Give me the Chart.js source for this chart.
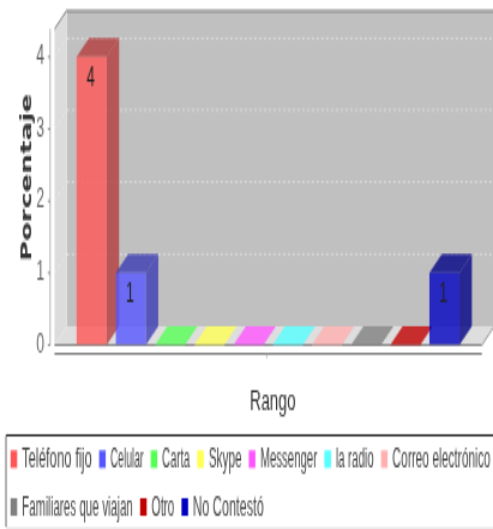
<!DOCTYPE html>
<html><head><meta charset="utf-8">
<style>
html,body{margin:0;padding:0;background:#fff;overflow:hidden}
canvas{display:block;width:493px!important;height:529px!important;filter:blur(0.5px)}
</style>
<script src="https://cdn.jsdelivr.net/npm/chart.js@4"></script>
</head><body>
<canvas id="c" width="411" height="240"></canvas>
<script>
const categories = ["Teléfono fijo","Celular","Carta","Skype","Messenger","la radio","Correo electrónico","Familiares que viajan","Otro","No Contestó"];
const values = [4,1,0,0,0,0,0,0,0,1];
const rgb = [[255,85,85],[85,85,255],[85,255,85],[255,255,85],[255,85,255],[85,255,255],[255,175,175],[128,128,128],[192,0,0],[0,0,192]];
const yTicks = [0,1,2,3,4];
const legendRows = [[0,1,2,3,4,5,6],[7,8,9]];
const legendTextWidths = [58.3,27.5,23.3,27.5,47.5,31.7,81.7,92.5,19,59];

const ALPHA = 0.8, DX = 10.4, DY = 8.6;
const css = (c,a,k=1)=>`rgba(${c.map(v=>Math.round(v*k)).join(',')},${a})`;
const poly = (ctx,pts,fill)=>{ctx.beginPath();pts.forEach((p,i)=>i?ctx.lineTo(p[0],p[1]):ctx.moveTo(p[0],p[1]));ctx.closePath();ctx.fillStyle=fill;ctx.fill();};
const seg = (ctx,x1,y1,x2,y2,col,w=1)=>{ctx.beginPath();ctx.moveTo(x1,y1);ctx.lineTo(x2,y2);ctx.strokeStyle=col;ctx.lineWidth=w;ctx.stroke();};

const scene = {
  id:'scene',
  beforeDatasetsDraw(chart){
    const {ctx,chartArea:a,scales:{y}} = chart;
    const base=y.getPixelForValue(0), L=a.left-14.6, R=a.right+14.9, top=a.top;
    ctx.save();
    poly(ctx,[[L+DX,top],[R+DX,top],[R+DX,base-DY],[L+DX,base-DY]],'#c0c0c0');
    poly(ctx,[[L,top+DY],[L+DX,top],[L+DX,base-DY],[L,base]],'#dcdcdc');
    poly(ctx,[[L,base],[L+DX,base-DY],[R+DX,base-DY],[R,base]],'#dedede');
    ctx.setLineDash([2,2]);
    yTicks.slice(1).forEach(v=>{
      const p=y.getPixelForValue(v);
      seg(ctx,L+DX,p-DY,R+DX,p-DY,'#e6e6e6',0.7);
      seg(ctx,L,p,L+DX,p-DY,'#ececec',0.7);
    });
    ctx.setLineDash([]);
    seg(ctx,L+DX,top+0.5,R+DX,top+0.5,'#858585',1);
    seg(ctx,L,top+DY,L+DX,top,'#858585',1);
    seg(ctx,L,base,R,base,'#8a8a8a',1);
    seg(ctx,R,base,R+DX,base-DY,'#9a9a9a',1);
    seg(ctx,41.8,top+DY,41.8,base,'#a0a0a0',0.8);
    yTicks.forEach(v=>{const p=y.getPixelForValue(v);seg(ctx,39.8,p,41.8,p,'#777',0.8);});
    seg(ctx,L,base+4,R,base+4,'#808080',1);
    seg(ctx,(a.left+a.right)/2-1,base+4,(a.left+a.right)/2-1,base+6,'#aaa',0.8);
    chart.getDatasetMeta(0).data.forEach((b,i)=>{
      const h=b.width/2, l=b.x-h, r=b.x+h, t=b.y, c=rgb[i];
      const zero=values[i]===0;
      poly(ctx,[[l,t],[l+DX,t-DY],[r+DX,t-DY],[r,t]],zero?css(c,ALPHA):css(c,ALPHA,0.7));
      if(!zero) poly(ctx,[[r,t],[r+DX,t-DY],[r+DX,base-DY],[r,base]],css(c,ALPHA,0.7));
    });
    ctx.restore();
  },
  afterDatasetsDraw(chart){
    const {ctx} = chart;
    ctx.save();
    ctx.font='12px "Liberation Sans"';ctx.fillStyle='#222';ctx.textAlign='center';ctx.textBaseline='middle';
    chart.getDatasetMeta(0).data.forEach((b,i)=>{
      if(values[i]>0) ctx.fillText(String(values[i]),b.x-0.8,b.y+9.5);
    });
    ctx.restore();
  },
  afterDraw(chart){
    const {ctx} = chart;
    ctx.save();
    seg(ctx,5,197.5,415,197.5,'#333',1);
    seg(ctx,5,197.5,5,239,'#666',1);
    seg(ctx,5,239.5,415,239.5,'#ddd',0.6);
    ctx.font='12px "Liberation Sans"';ctx.textAlign='left';ctx.textBaseline='middle';
    [208.3,230].forEach((cy,row)=>{
      let x=8.8;
      legendRows[row].forEach(i=>{
        ctx.fillStyle=css(rgb[i],1);
        ctx.fillRect(x,cy-4,5.5,8);
        ctx.fillStyle='#444';
        ctx.fillText(categories[i],x+9.5,cy+0.5,legendTextWidths[i]);
        x+=9.5+legendTextWidths[i]+6;
      });
    });
    ctx.restore();
  }
};

new Chart(document.getElementById('c'),{
  type:'bar',
  data:{labels:categories,datasets:[{label:'Porcentaje',data:values,
    backgroundColor:rgb.map(c=>css(c,ALPHA)),borderWidth:0,
    barPercentage:0.765,categoryPercentage:1}]},
  options:{
    responsive:false,animation:false,devicePixelRatio:1,
    layout:{padding:{left:15,right:24.2,top:4.54,bottom:49.4}},
    plugins:{legend:{display:false},tooltip:{enabled:false}},
    scales:{
      x:{grid:{display:false,drawTicks:false},border:{display:false},ticks:{display:false},
         afterFit(s){
           s.paddingLeft=0;s.paddingRight=0;
           if(!s._shifted){s._shifted=true;const d=s.drawTitle;s.drawTitle=function(){s.ctx.save();s.ctx.translate(4,0);d.call(s);s.ctx.restore();};}
         },
         title:{display:true,text:'Rango',color:'#333',font:{family:'"Liberation Sans"',size:13},padding:{top:18.5,bottom:0}}},
      y:{min:0,max:4.653,grid:{display:false,drawTicks:false},border:{display:false},
         afterBuildTicks(s){s.ticks=yTicks.map(v=>({value:v}));},
         afterFit(s){s.width=45;s.paddingTop=0;s.paddingBottom=0;},
         ticks:{padding:23,color:'#666',font:{family:'"Liberation Sans"',size:12}},
         title:{display:true,text:'Porcentaje',color:'#333',font:{family:'"DejaVu Sans"',size:12.5,weight:'bold'},padding:0}}
    }
  },
  plugins:[scene]
});
</script>
</body></html>
